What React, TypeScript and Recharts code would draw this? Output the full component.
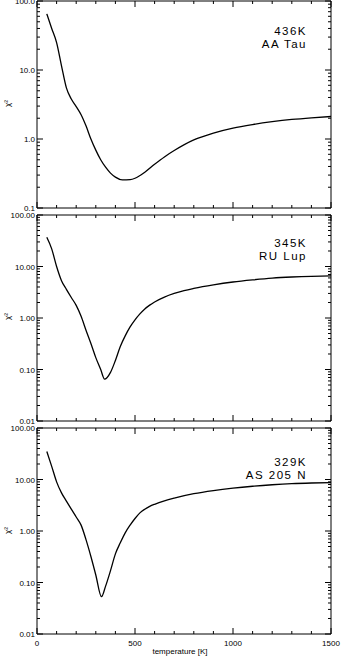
import { LineChart, Line, XAxis, YAxis, ReferenceArea } from 'recharts';

// chi^2 vs. dust temperature, one panel per source
const tempsAA = [50, 75, 100, 125, 150, 175, 200, 225, 250, 275, 300, 325, 350, 375, 400, 436, 475, 500, 550, 600, 650, 700, 800, 900, 1000, 1100, 1200, 1300, 1400, 1500];
const chiAA = [65, 40, 25, 11.5, 5.5, 3.8, 2.95, 2.25, 1.55, 1.0, 0.69, 0.5, 0.39, 0.32, 0.28, 0.255, 0.258, 0.27, 0.33, 0.43, 0.55, 0.68, 0.97, 1.22, 1.44, 1.62, 1.78, 1.92, 2.03, 2.12];

const tempsRU = [50, 75, 100, 125, 150, 175, 200, 225, 250, 275, 300, 325, 345, 375, 400, 425, 450, 475, 500, 525, 550, 575, 600, 650, 700, 750, 800, 900, 1000, 1100, 1200, 1300, 1400, 1500];
const chiRU = [37, 22, 10, 5.3, 3.6, 2.5, 1.76, 1.08, 0.58, 0.32, 0.17, 0.1, 0.065, 0.088, 0.15, 0.28, 0.45, 0.67, 0.92, 1.2, 1.5, 1.78, 2.05, 2.55, 3.0, 3.4, 3.75, 4.4, 5.0, 5.5, 5.95, 6.25, 6.45, 6.55];

const tempsAS = [50, 75, 100, 125, 150, 175, 200, 225, 250, 275, 300, 329, 350, 375, 400, 425, 450, 475, 500, 525, 550, 575, 600, 650, 700, 800, 900, 1000, 1100, 1200, 1300, 1400, 1500];
const chiAS = [35, 18, 9, 5.5, 3.8, 2.65, 1.87, 1.3, 0.68, 0.32, 0.14, 0.053, 0.085, 0.17, 0.36, 0.59, 0.92, 1.3, 1.75, 2.25, 2.65, 3.0, 3.3, 3.85, 4.35, 5.3, 6.1, 6.8, 7.4, 7.9, 8.3, 8.55, 8.7];

const xTicks = [0, 100, 200, 300, 400, 500, 600, 700, 800, 900, 1000, 1100, 1200, 1300, 1400, 1500];
const xMajor = [0, 500, 1000, 1500];
const decadesTop = [0.1, 1, 10, 100];
const decadesLow = [0.01, 0.1, 1, 10, 100];

const PLOT_LEFT = 37;
const PLOT_RIGHT = 331;
const FONT = '"Liberation Sans", Arial, sans-serif';

function logTicks(decades: number[]) {
  const out: number[] = [];
  decades.forEach((d, i) => {
    out.push(d);
    if (i < decades.length - 1) {
      for (let k = 2; k <= 9; k++) out.push(+(d * k).toPrecision(3));
    }
  });
  return out;
}

const isDecade = (v: number) => Math.abs(Math.log10(v) - Math.round(Math.log10(v))) < 1e-6;

function Panel({ top, plotH, temps, chi, decades, digits, showX }: any) {
  // extra room above/below the frame so edge labels are not clipped by the svg
  const mTop = 8;
  const xh = showX ? 24 : 6;
  const H = mTop + plotH + xh;
  const plotTop = mTop;
  const plotBottom = mTop + plotH;
  const data = temps.map((t: number, i: number) => ({ t, chi: chi[i] }));
  const yMin = decades[0];
  const yMax = decades[decades.length - 1];

  const yTick = (p: any) => {
    const v = p.payload.value;
    const major = isDecade(v);
    const len = major ? 6 : 3;
    return (
      <g>
        <line x1={PLOT_LEFT} x2={PLOT_LEFT + len} y1={p.y} y2={p.y} stroke="#000" />
        <line x1={PLOT_RIGHT} x2={PLOT_RIGHT - len} y1={p.y} y2={p.y} stroke="#000" />
        {major && (
          <text x={PLOT_LEFT - 2} y={p.y + 3} textAnchor="end" fontSize={8} fontFamily={FONT} fill="#000">
            {v.toFixed(digits)}
          </text>
        )}
      </g>
    );
  };

  const xTick = (p: any) => {
    const v = p.payload.value;
    const major = xMajor.includes(v);
    const len = major ? 6 : 3;
    return (
      <g>
        <line x1={p.x} x2={p.x} y1={plotBottom} y2={plotBottom - len} stroke="#000" />
        <line x1={p.x} x2={p.x} y1={plotTop} y2={plotTop + len} stroke="#000" />
        {showX && major && (
          <text x={p.x} y={plotBottom + 12} textAnchor="middle" fontSize={8} fontFamily={FONT} fill="#000">
            {v}
          </text>
        )}
      </g>
    );
  };

  return (
    <div style={{ position: 'absolute', left: 0, top: top - mTop }}>
      <LineChart width={341} height={H} data={data} margin={{ top: mTop, right: 341 - PLOT_RIGHT, left: 0, bottom: 0 }}>
        <XAxis dataKey="t" type="number" domain={[0, 1500]} ticks={xTicks} interval={0} height={xh} axisLine={false} tickLine={false} tick={xTick} />
        <YAxis type="number" scale="log" domain={[yMin, yMax]} ticks={logTicks(decades)} interval={0} width={PLOT_LEFT} axisLine={false} tickLine={false} tick={yTick} allowDataOverflow />
        <ReferenceArea x1={0} x2={1500} y1={yMin} y2={yMax} fill="none" stroke="#000" strokeWidth={1} ifOverflow="visible" />
        <Line dataKey="chi" type="monotone" stroke="#000" strokeWidth={1.3} dot={false} isAnimationActive={false} />
      </LineChart>
    </div>
  );
}

const labelStyle: any = {
  position: 'absolute',
  right: 341 - 307,
  fontFamily: FONT,
  fontSize: 11.5,
  letterSpacing: 1.5,
  lineHeight: '12.5px',
  textAlign: 'right',
  color: '#000',
  whiteSpace: 'nowrap',
};

const chiStyle: any = {
  position: 'absolute',
  left: 4,
  fontFamily: FONT,
  fontSize: 8,
  transform: 'rotate(-90deg)',
  color: '#000',
};

export default function App() {
  return (
    <div style={{ position: 'absolute', left: 0, top: 0, width: 341, height: 658, background: '#fff', overflow: 'hidden' }}>
      <Panel top={1} plotH={207} temps={tempsAA} chi={chiAA} decades={decadesTop} digits={1} showX={false} />
      <Panel top={215} plotH={206} temps={tempsRU} chi={chiRU} decades={decadesLow} digits={2} showX={false} />
      <Panel top={428} plotH={206} temps={tempsAS} chi={chiAS} decades={decadesLow} digits={2} showX />

      <div style={{ ...labelStyle, top: 25 }}>436K<br />AA Tau</div>
      <div style={{ ...labelStyle, top: 237 }}>345K<br />RU Lup</div>
      <div style={{ ...labelStyle, top: 456 }}>329K<br />AS 205 N</div>

      <div style={{ ...chiStyle, top: 99 }}>χ²</div>
      <div style={{ ...chiStyle, top: 312 }}>χ²</div>
      <div style={{ ...chiStyle, top: 526 }}>χ²</div>

      <div style={{ position: 'absolute', left: 130, width: 100, top: 647, textAlign: 'center', fontFamily: FONT, fontSize: 8, lineHeight: '10px' }}>
        temperature [K]
      </div>
    </div>
  );
}
